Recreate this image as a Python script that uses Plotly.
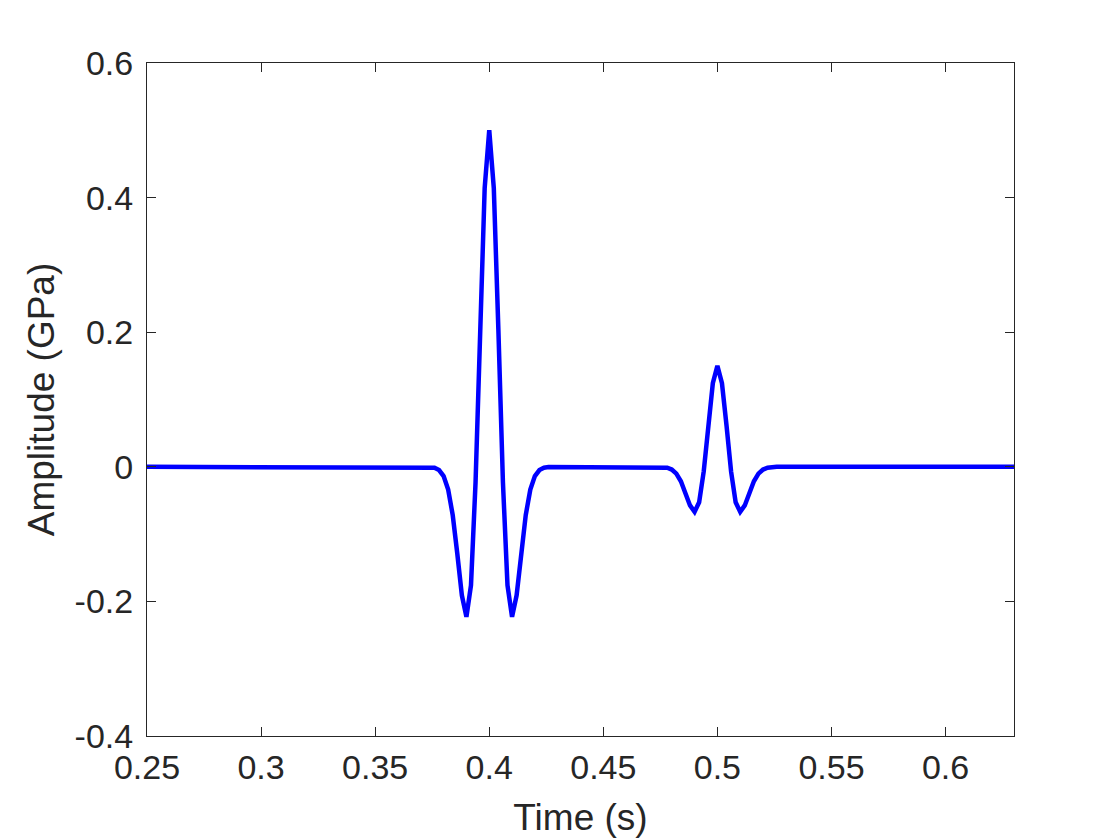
import plotly.graph_objects as go

start_time = [0.25]
start_amp = [0.0]

wave1_time = [0.374, 0.376, 0.378, 0.380, 0.382, 0.384, 0.386, 0.388, 0.390, 0.392,
              0.394, 0.396, 0.398, 0.400, 0.402, 0.404, 0.406, 0.408, 0.410, 0.412,
              0.414, 0.416, 0.418, 0.420, 0.422, 0.424, 0.426]
wave1_amp = [-0.0004, -0.0014, -0.0048, -0.0137, -0.0338, -0.0718, -0.129, -0.191, -0.223, -0.176,
             -0.023, 0.2045, 0.414, 0.500, 0.414, 0.2045, -0.023, -0.176, -0.223, -0.191,
             -0.129, -0.0718, -0.0338, -0.0137, -0.0048, -0.0014, -0.0004]

wave2_time = [0.474, 0.476, 0.478, 0.480, 0.482, 0.484, 0.486, 0.488, 0.490, 0.492,
              0.494, 0.496, 0.498, 0.500, 0.502, 0.504, 0.506, 0.508, 0.510, 0.512,
              0.514, 0.516, 0.518, 0.520, 0.522, 0.524, 0.526]
wave2_amp = [-0.0001, -0.0004, -0.0014, -0.0041, -0.0101, -0.0215, -0.0387, -0.0574, -0.0669, -0.0528,
             -0.0070, 0.0614, 0.1243, 0.150, 0.1243, 0.0614, -0.0070, -0.0528, -0.0669, -0.0574,
             -0.0387, -0.0215, -0.0101, -0.0041, -0.0014, -0.0004, -0.0001]

end_time = [0.63]
end_amp = [0.0]

x_ticks = [0.25, 0.3, 0.35, 0.4, 0.45, 0.5, 0.55, 0.6]
x_tick_labels = ["0.25", "0.3", "0.35", "0.4", "0.45", "0.5", "0.55", "0.6"]
y_ticks = [-0.4, -0.2, 0, 0.2, 0.4, 0.6]
y_tick_labels = ["-0.4", "-0.2", "0", "0.2", "0.4", "0.6"]

time = start_time + wave1_time + wave2_time + end_time
amp = start_amp + wave1_amp + wave2_amp + end_amp

FONT = "Liberation Sans, Arial, Helvetica, sans-serif"
INK = "#262626"

fig = go.Figure()
fig.add_trace(go.Scatter(x=time, y=amp, mode="lines",
                         line=dict(color="#0000ff", width=4.5),
                         showlegend=False))

axis_common = dict(
    showline=True, linecolor=INK, linewidth=1, mirror="ticks",
    ticks="inside", ticklen=9, tickwidth=1, tickcolor=INK,
    showgrid=False, zeroline=False,
    tickfont=dict(family=FONT, size=34, color=INK),
)

# page body adds an 8px offset, so the figure is drawn at 1112x832
fig.update_layout(
    width=1112, height=832,
    margin=dict(l=139, r=106, t=55, b=104, autoexpand=False),
    paper_bgcolor="white", plot_bgcolor="white",
    font=dict(family=FONT, color=INK),
    xaxis=dict(range=[0.25, 0.63], tickvals=x_ticks, ticktext=x_tick_labels,
               ticklabelstandoff=1,
               title=dict(text="Time (s)", font=dict(family=FONT, size=37, color=INK),
                          standoff=19),
               automargin=False, **axis_common),
    yaxis=dict(range=[-0.4, 0.6], tickvals=y_ticks, ticktext=y_tick_labels,
               ticklabelstandoff=6,
               title=dict(text="Amplitude (GPa)", font=dict(family=FONT, size=37, color=INK),
                          standoff=8),
               automargin=False, **axis_common),
)

fig.write_html("out.html")
